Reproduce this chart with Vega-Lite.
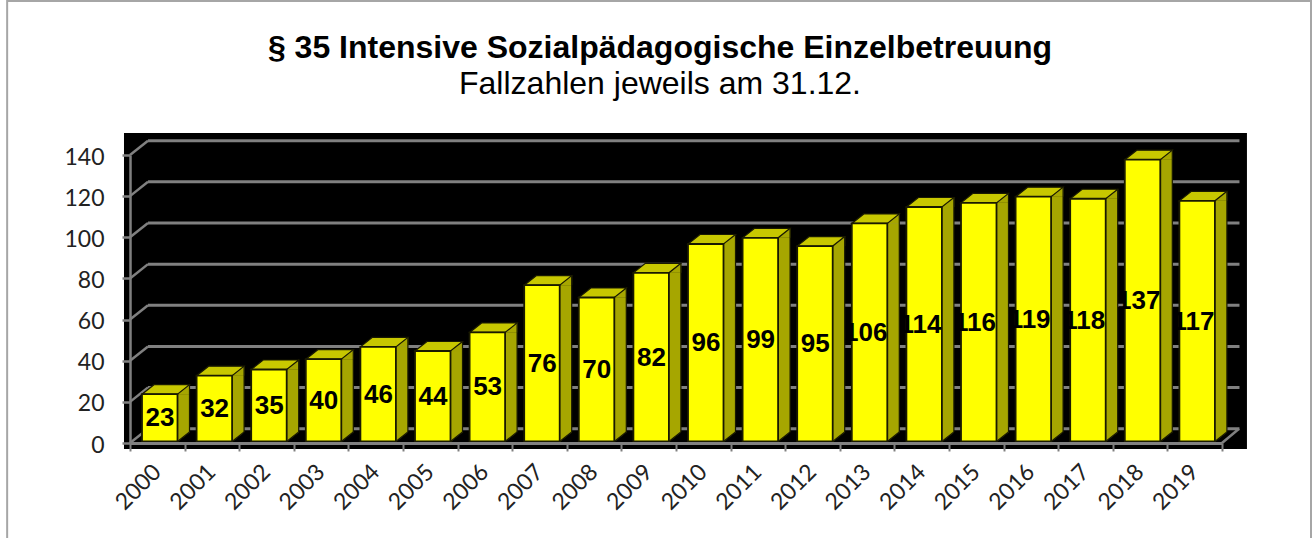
{
"$schema":"https://vega.github.io/schema/vega-lite/v6.json",
"width":1314,"height":438,"autosize":{"type":"none"},
"padding":{"left":0,"top":100,"right":0,"bottom":0},
"background":"#ffffff",
"title":{"text":"§ 35 Intensive Sozialpädagogische Einzelbetreuung","subtitle":"Fallzahlen jeweils am 31.12.","anchor":"middle","frame":"group","orient":"top","dx":3,"offset":-101,"font":"Liberation Sans","fontSize":32,"fontWeight":"bold","color":"#000000","subtitleFont":"Liberation Sans","subtitleFontSize":32,"subtitleFontWeight":"normal","subtitleColor":"#000000","subtitlePadding":4},
"config":{"view":{"stroke":null}},
"datasets":{"ticks":[{"tick":0,"from":2000.33,"to":2020.32,"corner":2000},{"tick":20,"from":2000.33,"to":2020.32,"corner":2000},{"tick":40,"from":2000.33,"to":2020.32,"corner":2000},{"tick":60,"from":2000.33,"to":2020.32,"corner":2000},{"tick":80,"from":2000.33,"to":2020.32,"corner":2000},{"tick":100,"from":2000.33,"to":2020.32,"corner":2000},{"tick":120,"from":2000.33,"to":2020.32,"corner":2000},{"tick":140,"from":2000.33,"to":2020.32,"corner":2000}]},
"data":{"values":[{"year":2000,"value":23},{"year":2001,"value":32},{"year":2002,"value":35},{"year":2003,"value":40},{"year":2004,"value":46},{"year":2005,"value":44},{"year":2006,"value":53},{"year":2007,"value":76},{"year":2008,"value":70},{"year":2009,"value":82},{"year":2010,"value":96},{"year":2011,"value":99},{"year":2012,"value":95},{"year":2013,"value":106},{"year":2014,"value":114},{"year":2015,"value":116},{"year":2016,"value":119},{"year":2017,"value":118},{"year":2018,"value":137},{"year":2019,"value":117}]},
"encoding":{
"x":{"field":"year","type":"quantitative","title":null,"scale":{"domain":[2000,2020],"range":[130,1222],"nice":false,"zero":false,"padding":0},
"axis":{"orient":"bottom","offset":-95,"values":[2000,2001,2002,2003,2004,2005,2006,2007,2008,2009,2010,2011,2012,2013,2014,2015,2016,2017,2018,2019,2020],"labelExpr":"datum.value==2020?'':format(datum.value,'d')","grid":false,"zindex":1,"domainColor":"#808080","domainWidth":3,"tickColor":"#808080","tickWidth":2,"tickSize":8,"labelAngle":-45,"labelAlign":"right","labelBaseline":"middle","labelOffset":27,"labelPadding":17,"labelFont":"Lato","labelFontSize":23,"labelColor":"#222222","labelOverlap":false,"labelBound":false,"labelFlush":false,"title":null}},
"y":{"field":"value","type":"quantitative","title":null,"scale":{"domain":[0,140],"range":[343,55],"nice":false},
"axis":{"orient":"left","offset":-130,"values":[0,20,40,60,80,100,120,140],"grid":false,"zindex":1,"domainColor":"#808080","domainWidth":2.5,"tickColor":"#808080","tickWidth":2.5,"tickSize":8,"labelPadding":18,"labelOffset":2,"labelFont":"Lato","labelFontSize":23,"labelColor":"#222222","labelOverlap":false,"title":null}}
},
"layer":[
{"data":{"values":[{"x0":1997.75,"x1":2021.63,"y0":214.9,"y1":-49.6}]},"mark":{"type":"rect","fill":null,"stroke":"#a6a6a6","strokeWidth":2},"encoding":{"x":{"field":"x0","type":"quantitative"},"x2":{"field":"x1"},"y":{"field":"y0","type":"quantitative"},"y2":{"field":"y1"}}},
{"data":{"values":[{"x0":1999.89,"x1":2020.457,"y0":150.7,"y1":-2.9}]},"mark":{"type":"rect","fill":"#000000"},"encoding":{"x":{"field":"x0","type":"quantitative"},"x2":{"field":"x1"},"y":{"field":"y0","type":"quantitative"},"y2":{"field":"y1"}}},
{"data":{"name":"ticks"},"mark":{"type":"rule","stroke":"#808080","strokeWidth":3,"yOffset":-14.3},"encoding":{"x":{"field":"from","type":"quantitative"},"x2":{"field":"to"},"y":{"field":"tick","type":"quantitative"}}},
{"data":{"name":"ticks"},"mark":{"type":"point","filled":false,"opacity":1,"size":4,"stroke":"#808080","strokeWidth":2.5,"shape":"M0,0L18,-14.3"},"encoding":{"x":{"field":"corner","type":"quantitative"},"y":{"field":"tick","type":"quantitative"}}},
{"data":{"values":[{"tick":0,"corner":2020}]},"mark":{"type":"point","filled":false,"opacity":1,"size":4,"stroke":"#808080","strokeWidth":2.5,"shape":"M0,0L17,-14.3"},"encoding":{"x":{"field":"corner","type":"quantitative"},"y":{"field":"tick","type":"quantitative"}}},
{"mark":{"type":"bar","fill":"#a6a600","width":12,"xOffset":53.5,"yOffset":-1.5,"y2Offset":-11},"encoding":{"y2":{"datum":0}}},
{"mark":{"type":"point","filled":true,"opacity":1,"size":4,"fill":"#a6a600","stroke":"#a6a600","strokeWidth":0.5,"shape":"M47.5,-1.5L59.5,-11L59.5,-1.5Z"},"encoding":{}},
{"mark":{"type":"point","filled":true,"opacity":1,"size":4,"fill":"#a6a600","stroke":"#a6a600","strokeWidth":0.5,"shape":"M47.5,-1.5L59.5,-11L47.5,-11Z"},"encoding":{"y":{"datum":0,"type":"quantitative"}}},
{"mark":{"type":"point","filled":false,"opacity":1,"size":4,"stroke":"#1a1a00","strokeWidth":1.2,"shape":"M47.5,-1.5L59.5,-11"},"encoding":{"y":{"datum":0,"type":"quantitative"}}},
{"mark":{"type":"rule","stroke":"#1a1a00","strokeWidth":1.2,"xOffset":59.5,"yOffset":-11,"y2Offset":-11},"encoding":{"y2":{"datum":0}}},
{"mark":{"type":"point","filled":true,"opacity":1,"size":4,"fill":"#c8c800","stroke":"#1a1a00","strokeWidth":1.2,"shape":"M12,-1.5L47.5,-1.5L59.5,-11L24,-11Z"},"encoding":{}},
{"mark":{"type":"bar","fill":"#ffff00","stroke":"#1a1a00","strokeWidth":1.8,"width":35.5,"xOffset":29.75,"yOffset":-1.5,"y2Offset":-1.5},"encoding":{"y2":{"datum":0}}},
{"transform":[{"filter":"datum.value<100"},{"calculate":"datum.value/2","as":"mid"}],"mark":{"type":"text","font":"Liberation Sans","fontWeight":"bold","fontSize":26,"fill":"#000000","align":"center","baseline":"middle","xOffset":30,"yOffset":-1},"encoding":{"y":{"field":"mid","type":"quantitative"},"text":{"field":"value","type":"quantitative"}}},
{"transform":[{"filter":"datum.value>=100"},{"calculate":"datum.value/2","as":"mid"}],"mark":{"type":"text","font":"Liberation Sans","fontWeight":"bold","fontSize":26,"fill":"#000000","align":"center","baseline":"middle","xOffset":26,"yOffset":-1},"encoding":{"y":{"field":"mid","type":"quantitative"},"text":{"field":"value","type":"quantitative"}}}
]
}
